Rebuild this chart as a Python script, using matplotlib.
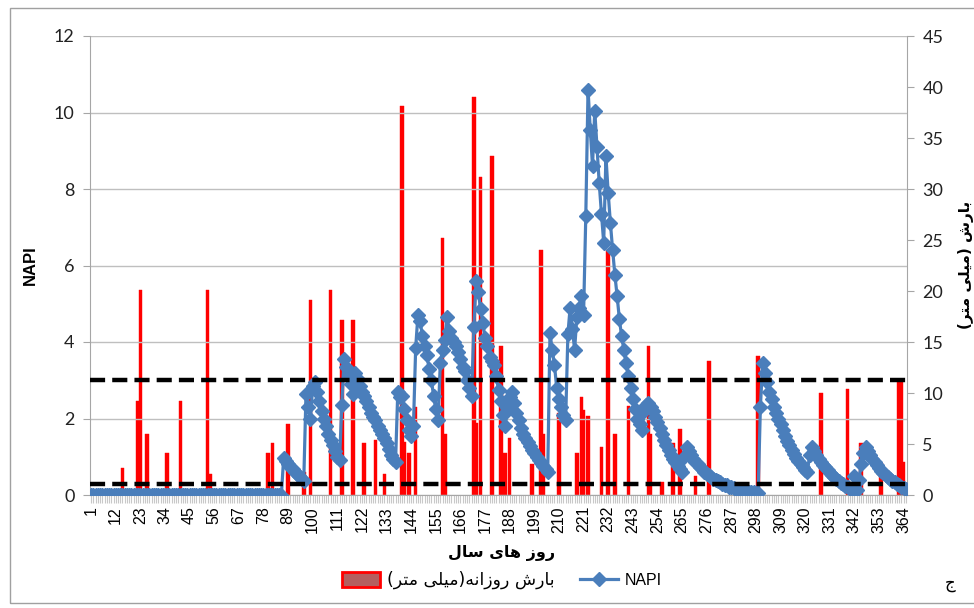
import matplotlib
matplotlib.use('Agg')
import matplotlib.pyplot as plt
from matplotlib.patches import Patch, Rectangle
from matplotlib.lines import Line2D

# ---------------- data ----------------
days = list(range(1, 366))

napi_days_1_86 = [0.0] * 86
napi_days_87_365 = [
    0.96, 0.88, 0.81, 0.74, 0.67, 0.61, 0.55, 0.49, 0.43, 0.37,
    2.65, 2.3, 2.0, 2.85, 2.95, 2.7, 2.45, 2.2, 2.0, 1.8,
    1.6, 1.45, 1.3, 1.15, 1.0, 0.92, 2.35, 3.55, 3.35, 3.15,
    2.9, 2.65, 3.2, 3.05, 2.85, 2.7, 2.6, 2.45, 2.3, 2.15,
    2.05, 1.95, 1.8, 1.7, 1.6, 1.5, 1.35, 1.2, 1.05, 0.95,
    0.85, 2.7, 2.55, 2.6, 2.25, 1.95, 1.7, 1.55, 1.8, 3.85,
    4.7, 4.55, 4.15, 3.9, 3.65, 3.3, 3.0, 2.6, 2.25, 1.95,
    3.45, 3.8, 4.05, 4.65, 4.3, 4.1, 4.0, 3.9, 3.75, 3.55,
    3.35, 3.25, 3.0, 2.8, 2.6, 4.4, 5.6, 5.3, 4.85, 4.5,
    4.1, 3.9, 3.6, 3.5, 3.4, 3.1, 2.75, 2.45, 2.1, 1.8,
    2.3, 2.55, 2.7, 2.4, 2.15, 1.95, 1.75, 1.6, 1.5, 1.38,
    1.28, 1.18, 1.1, 1.0, 0.92, 0.84, 0.76, 0.68, 0.6, 4.23,
    3.8, 3.4, 2.8, 2.5, 2.3, 2.1, 1.95, 4.2, 4.9, 4.35,
    3.8, 4.65, 4.9, 5.2, 4.7, 7.3, 10.6, 9.55, 8.6, 10.05,
    9.1, 8.15, 7.35, 6.6, 8.85, 7.9, 7.1, 6.4, 5.75, 5.2,
    4.6, 4.15, 3.8, 3.45, 3.1, 2.8, 2.5, 2.25, 2.0, 1.85,
    1.7, 2.2, 2.35, 2.4, 2.3, 2.2, 2.05, 1.9, 1.75, 1.6,
    1.45, 1.3, 1.18, 1.05, 0.95, 0.85, 0.76, 0.68, 0.6, 1.0,
    1.25, 1.15, 1.05, 0.95, 0.87, 0.8, 0.73, 0.67, 0.61, 0.56,
    0.51, 0.47, 0.43, 0.39, 0.36, 0.33, 0.3, 0.27, 0.25, 0.22,
    0.2, 0.18, 0.16, 0.15, 0.13, 0.12, 0.11, 0.1, 0.09, 0.08,
    0.07, 0.06, 0.05, 2.3, 3.44, 3.2, 2.95, 2.7, 2.5, 2.3,
    2.15, 2.0, 1.85, 1.7, 1.55, 1.42, 1.3, 1.18, 1.07, 0.97,
    0.88, 0.8, 0.72, 0.65, 0.6, 1.05, 1.25, 1.15, 1.05, 0.95,
    0.87, 0.79, 0.72, 0.65, 0.58, 0.52, 0.46, 0.41, 0.36, 0.32,
    0.28, 0.24, 0.2, 0.16, 0.13, 0.5, 0.12, 0.4, 0.8, 1.1,
    1.26, 1.15, 1.05, 0.95, 0.86, 0.78, 0.7, 0.63, 0.57, 0.51,
    0.46, 0.41, 0.37, 0.33, 0.29, 0.26, 0.22, 0.19, 0.16,
]
napi = napi_days_1_86 + napi_days_87_365

rain_days = [15, 22, 23, 26, 35, 41, 53, 54, 80, 82, 89, 96, 99, 108, 113,
             118, 123, 128, 132, 140, 141, 143, 146, 158, 159, 172, 173,
             175, 180, 184, 186, 188, 198, 202, 203, 210, 218, 220, 221,
             223, 229, 232, 235, 241, 250, 251, 256, 261, 264, 271, 277,
             299, 327, 339, 345, 354, 362, 363, 364]
rain_mm = [2.6, 9.2, 20.1, 6.0, 4.1, 9.2, 20.1, 2.1, 4.1, 5.1, 7.0, 2.3,
           19.1, 20.1, 17.2, 17.2, 5.1, 5.4, 2.1, 38.1, 5.2, 4.1, 8.6,
           25.2, 6.0, 39.0, 7.1, 31.2, 33.2, 14.6, 4.1, 5.6, 3.0, 24.0,
           6.0, 8.0, 4.1, 9.6, 8.3, 7.7, 4.7, 24.0, 6.0, 8.7, 14.6, 6.0,
           1.3, 5.1, 6.5, 1.9, 13.1, 13.6, 10.0, 10.4, 5.1, 3.1, 11.4,
           11.2, 3.2]

xtick_days = list(range(1, 365, 11))
napi_thresholds = [3.0, 0.3]

label_x = 'روز های سال'
label_right = 'بارش (میلی متر)'
label_rain = 'بارش روزانه(میلی متر)'
label_napi = 'NAPI'
panel_letter = 'ج'

# ---------------- minimal Persian shaping (visual order) ----------------
FORMS = {
    'ا': ('\uFE8D', '\uFE8E', None, None),
    'ب': ('\uFE8F', '\uFE90', '\uFE91', '\uFE92'),
    'ت': ('\uFE95', '\uFE96', '\uFE97', '\uFE98'),
    'ج': ('\uFE9D', '\uFE9E', '\uFE9F', '\uFEA0'),
    'ر': ('\uFEAD', '\uFEAE', None, None),
    'ز': ('\uFEAF', '\uFEB0', None, None),
    'س': ('\uFEB1', '\uFEB2', '\uFEB3', '\uFEB4'),
    'ش': ('\uFEB5', '\uFEB6', '\uFEB7', '\uFEB8'),
    'ل': ('\uFEDD', '\uFEDE', '\uFEDF', '\uFEE0'),
    'م': ('\uFEE1', '\uFEE2', '\uFEE3', '\uFEE4'),
    'ن': ('\uFEE5', '\uFEE6', '\uFEE7', '\uFEE8'),
    'ه': ('\uFEE9', '\uFEEA', '\uFEEB', '\uFEEC'),
    'و': ('\uFEED', '\uFEEE', None, None),
    'ی': ('\uFBFC', '\uFBFD', '\uFBFE', '\uFBFF'),
}


def shape(text):
    out = []
    n = len(text)
    for i, c in enumerate(text):
        if c not in FORMS:
            out.append(c)
            continue
        prev = text[i - 1] if i > 0 else None
        nxt = text[i + 1] if i < n - 1 else None
        conn_prev = prev in FORMS and FORMS[prev][2] is not None
        conn_next = nxt in FORMS and FORMS[c][2] is not None
        iso, fin, ini, med = FORMS[c]
        if conn_prev and conn_next:
            out.append(med)
        elif conn_prev:
            out.append(fin)
        elif conn_next:
            out.append(ini)
        else:
            out.append(iso)
    mirror = {'(': ')', ')': '('}
    return ''.join(mirror.get(ch, ch) for ch in reversed(out))


# ---------------- figure ----------------
W, H = 974, 608
fig = plt.figure(figsize=(W / 100, H / 100), dpi=100)
fig.patch.set_facecolor('white')

L, R, T, B = 90, 907, 36, 495
ax = fig.add_axes([L / W, 1 - B / H, (R - L) / W, (B - T) / H])
ax2 = ax.twinx()

grey = '#a6a6a6'
num_font = 'Lato'
arial = 'Liberation Sans'
persian = 'DejaVu Sans'
blue = '#4a7ebb'

# bars (precipitation, right axis)
ax2.bar(rain_days, rain_mm, width=1.6, color='#ff0000', edgecolor='#ff0000',
        linewidth=0.3, zorder=2)
ax2.set_ylim(0, 45)
ax2.set_yticks(list(range(0, 50, 5)))
for sp in ['top', 'left', 'bottom']:
    ax2.spines[sp].set_visible(False)
ax2.spines['right'].set_color(grey)
ax2.tick_params(axis='y', direction='out', length=5, color=grey, labelsize=13,
                labelcolor='#222222', pad=6)
for lab in ax2.get_yticklabels():
    lab.set_family(num_font)

# NAPI line (left axis), above bars
ax.set_zorder(ax2.get_zorder() + 1)
ax.patch.set_visible(False)
ax.set_axisbelow(True)
ax.plot(days, napi, color=blue, lw=2.3, marker='D', ms=7.5,
        mfc=blue, mec=blue, zorder=3)
for t in napi_thresholds:
    ax.axhline(t, color='black', lw=3.2, ls=(0, (3.4, 1.6)), zorder=5)

ax.set_ylim(0, 12)
ax.set_yticks(list(range(0, 13, 2)))
ax.set_xlim(0.5, 365.5)
ax.set_xticks(xtick_days)
ax.set_xticklabels([str(d) for d in xtick_days], rotation=90,
                   family=arial, fontsize=11.5)
ax.set_xticks(days, minor=True)
ax.grid(axis='y', color='#bfbfbf', lw=1, zorder=0)
for sp in ['top', 'right']:
    ax.spines[sp].set_visible(False)
ax.spines['left'].set_color(grey)
ax.spines['bottom'].set_color(grey)
ax.tick_params(axis='y', direction='out', length=5, color=grey, labelsize=13,
               labelcolor='#222222', pad=6)
ax.tick_params(axis='x', which='both', direction='out', length=6,
               color='#c8c8c8', width=0.8, pad=2)
for lab in ax.get_yticklabels():
    lab.set_family(num_font)

# axis titles
fig.text(30 / W, 1 - 265 / H, label_napi, rotation=90, ha='center',
         va='center', fontsize=12, fontweight='bold', family=arial)
fig.text(502 / W, 1 - 553 / H, shape(label_x), ha='center', va='center',
         fontsize=11.5, fontweight='bold', family=persian)
fig.text(966 / W, 1 - 265 / H, shape(label_right), rotation=90,
         ha='center', va='center', fontsize=11, fontweight='bold',
         family=persian)
fig.text(950 / W, 1 - 583 / H, shape(panel_letter), ha='center',
         va='center', fontsize=12, family=persian)

# legend
handles = [
    Patch(facecolor='#b45f5f', edgecolor='#ff0000', linewidth=2),
    Line2D([], [], color=blue, lw=2.3, marker='D', ms=7.5,
           mfc=blue, mec=blue),
]
leg = fig.legend(handles, [shape(label_rain), label_napi], loc='center',
                 bbox_to_anchor=(502 / W, 1 - 580 / H), ncol=2,
                 frameon=False, fontsize=11.5, handlelength=2.4,
                 handleheight=1.0, columnspacing=1.6, handletextpad=0.4)
leg.get_texts()[0].set_family(persian)
leg.get_texts()[0].set_fontsize(12.5)
leg.get_texts()[1].set_family(arial)
leg.get_texts()[1].set_fontsize(11.5)

# outer chart border
fig.patches.append(Rectangle((10 / W, 1 - 603 / H), 1.0, (603 - 8) / H,
                             transform=fig.transFigure, fill=False,
                             edgecolor='#a0a0a0', lw=1.0))

fig.savefig('out.png', dpi=100)
